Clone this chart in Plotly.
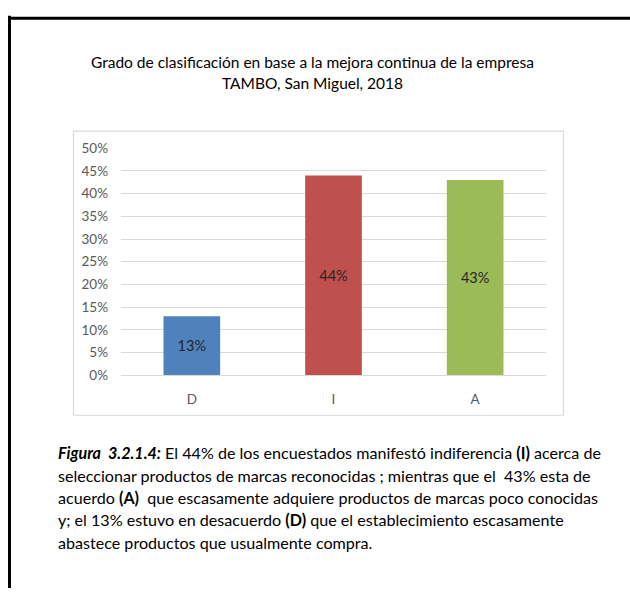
import plotly.graph_objects as go

categories = ["D", "I", "A"]
values = [0.13, 0.44, 0.43]
bar_colors = ["#4F81BD", "#C0504D", "#9BBB59"]
tick_vals = [0, 0.05, 0.10, 0.15, 0.20, 0.25, 0.30, 0.35, 0.40, 0.45, 0.50]
tick_text = ["0%", "5%", "10%", "15%", "20%", "25%", "30%", "35%", "40%", "45%", "50%"]
title_lines = ["Grado de clasificación en base a la mejora continua de la empresa",
               "TAMBO, San Miguel, 2018"]
caption_lines = [
    "<b><i>Figura  3.2.1.4:</i></b> El 44% de los encuestados manifestó indiferencia <b>(I)</b> acerca de",
    "seleccionar productos de marcas reconocidas ; mientras que el  43% esta de",
    "acuerdo <b>(A)</b>  que escasamente adquiere productos de marcas poco conocidas",
    "y; el 13% estuvo en desacuerdo <b>(D)</b> que el establecimiento escasamente",
    "abastece productos que usualmente compra.",
]

W, H = 630, 596
FONT = "Lato"

def px_x(x):
    return x / W

def px_y(y):
    return (H - y) / H

fig = go.Figure()
fig.add_trace(go.Bar(
    x=categories, y=values,
    marker=dict(color=bar_colors, line=dict(width=0)),
    width=0.4,
    text=[f"{round(v*100)}%" for v in values],
    textposition="inside", insidetextanchor="middle",
    textfont=dict(family=FONT, size=14.5, color="#262626"),
    textangle=0,
    hoverinfo="skip",
))

shapes = [
    # chart box
    dict(type="rect", xref="paper", yref="paper",
         x0=px_x(73.5), x1=px_x(563.5), y0=px_y(418.5), y1=px_y(126.5),
         line=dict(color="#D9D9D9", width=1.2), fillcolor="rgba(0,0,0,0)", layer="below"),
    # outer black frame (left + top)
    dict(type="line", xref="paper", yref="paper",
         x0=px_x(9.5), x1=px_x(9.5), y0=px_y(8), y1=0,
         line=dict(color="black", width=3)),
    dict(type="line", xref="paper", yref="paper",
         x0=px_x(8), x1=1, y0=px_y(10.5), y1=px_y(10.5),
         line=dict(color="black", width=3)),
]

annotations = []
title_y = [55, 77]
for t, y in zip(title_lines, title_y):
    annotations.append(dict(text=t, xref="paper", yref="paper", x=px_x(312), y=px_y(y),
                            xanchor="center", yanchor="middle", showarrow=False,
                            font=dict(family=FONT, size=15.5, color="#000000")))
cap_y = [457, 480, 503, 526, 549]
for t, y in zip(caption_lines, cap_y):
    annotations.append(dict(text=t, xref="paper", yref="paper", x=px_x(56), y=px_y(y),
                            xanchor="left", yanchor="middle", showarrow=False, align="left",
                            font=dict(family=FONT, size=16.1, color="#000000")))

fig.update_layout(
    width=W, height=H,
    margin=dict(l=0, r=0, t=0, b=0),
    paper_bgcolor="white", plot_bgcolor="white",
    showlegend=False,
    shapes=shapes,
    annotations=annotations,
    xaxis=dict(domain=[px_x(121), px_x(546)], showgrid=False, zeroline=False,
               showline=True, linecolor="#D9D9D9", linewidth=1.2,
               ticks="", ticklabelstandoff=11,
               tickfont=dict(family=FONT, size=13.5, color="#595959"), fixedrange=True),
    yaxis=dict(domain=[px_y(377.5), px_y(144)], range=[0, 0.5],
               tickvals=tick_vals, ticktext=tick_text,
               showgrid=True, gridcolor="#D9D9D9", gridwidth=1.2,
               zeroline=False, showline=False, ticks="", ticklabelstandoff=12,
               tickfont=dict(family=FONT, size=13.5, color="#595959"), fixedrange=True),
)

fig.write_html("out.html")
